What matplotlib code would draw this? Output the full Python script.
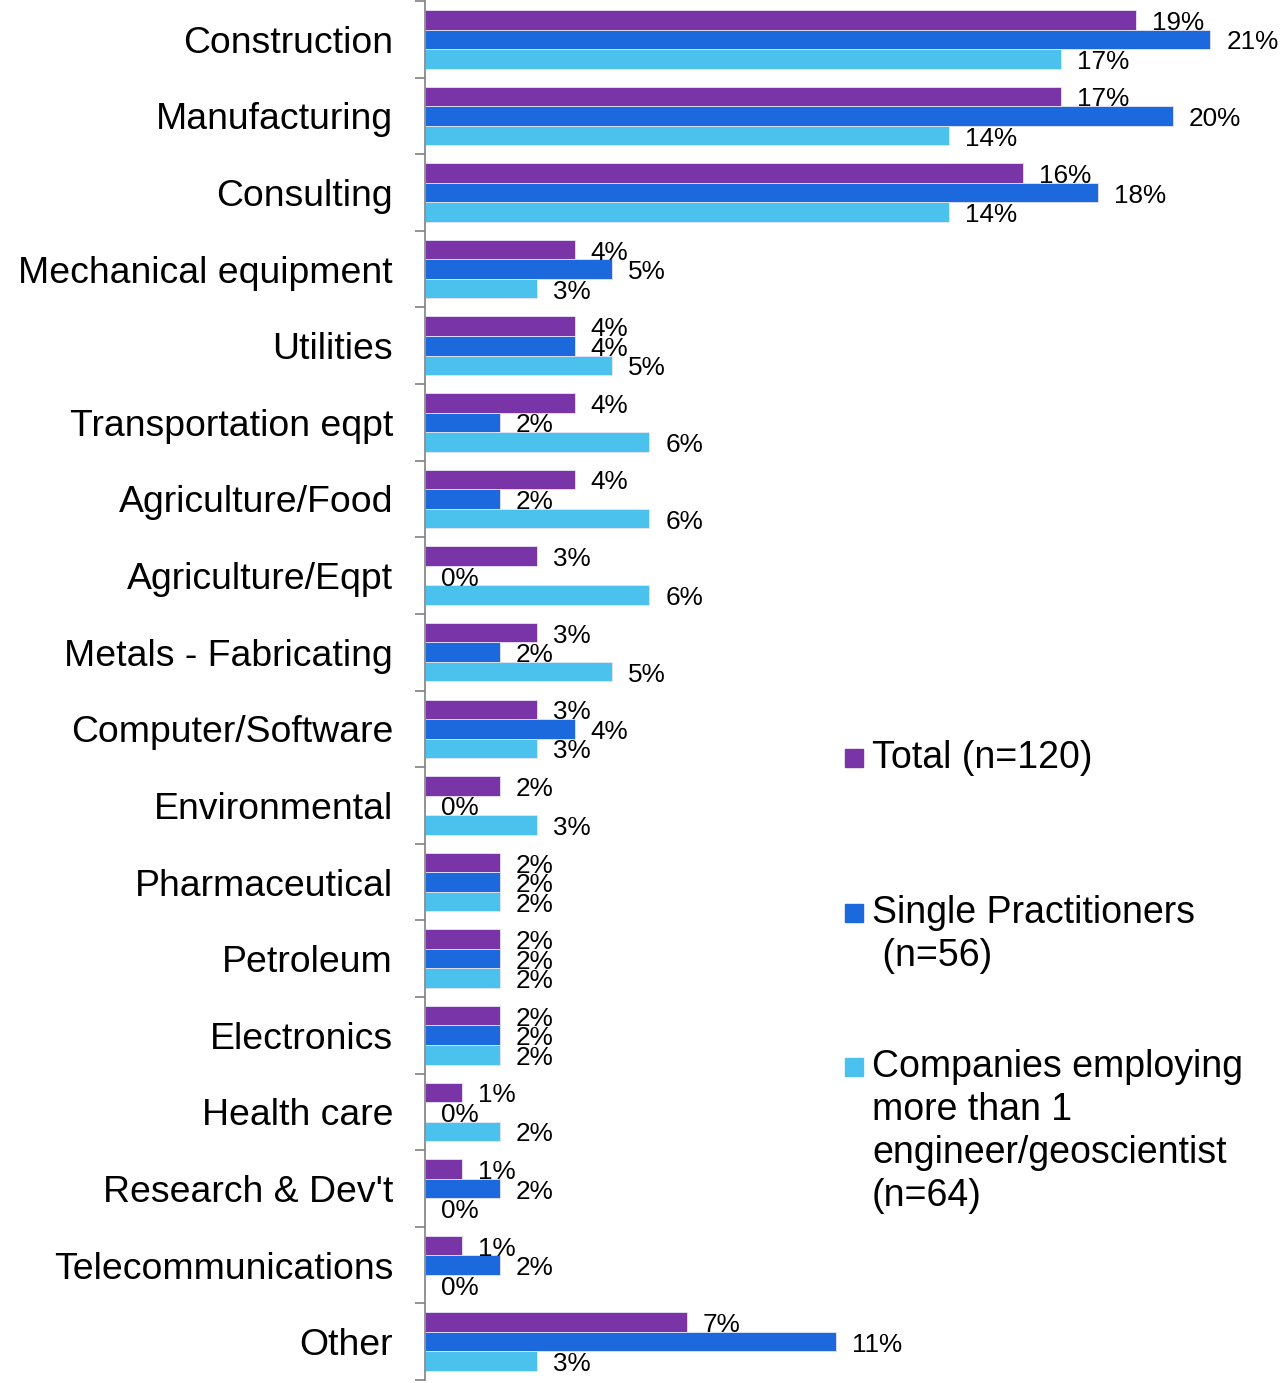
import matplotlib.pyplot as plt
import matplotlib.patches as mpatches
import numpy as np

plt.rcParams["font.family"] = ["Liberation Sans", "DejaVu Sans"]

categories = ["Construction", "Manufacturing", "Consulting", "Mechanical equipment",
              "Utilities", "Transportation eqpt", "Agriculture/Food", "Agriculture/Eqpt",
              "Metals - Fabricating", "Computer/Software", "Environmental",
              "Pharmaceutical", "Petroleum", "Electronics", "Health care",
              "Research & Dev't", "Telecommunications", "Other"]
total = [19, 17, 16, 4, 4, 4, 4, 3, 3, 3, 2, 2, 2, 2, 1, 1, 1, 7]
single = [21, 20, 18, 5, 4, 2, 2, 0, 2, 4, 0, 2, 2, 2, 0, 2, 2, 11]
companies = [17, 14, 14, 3, 5, 6, 6, 6, 5, 3, 3, 2, 2, 2, 2, 0, 0, 3]

series = [
    (total, "#7934A8", ["Total (n=120)"]),
    (single, "#1C69DE", ["Single Practitioners", " (n=56)"]),
    (companies, "#4BC2EE", ["Companies employing", "more than 1",
                            "engineer/geoscientist", "(n=64)"]),
]

W, H = 1288, 1383
fig = plt.figure(figsize=(W / 100, H / 100), dpi=100)
ax = fig.add_axes([425 / W, 1 - 1380 / H, 1 - 425 / W, (1380 - 1) / H])

y = np.arange(len(categories))
h = 0.255
for k, (vals, color, _) in enumerate(series):
    pos = y + (k - 1) * h
    ax.barh(pos, vals, height=h, color=color, edgecolor="#e8e4f4", linewidth=0.6)
    for yy, v in zip(pos, vals):
        ax.annotate(f"{v}%", (v, yy), xytext=(11.5, -2.2), textcoords="offset points",
                    ha="left", va="center", fontsize=18.8, color="black")

ax.set_xlim(0, (W - 425) / 37.4)
ax.set_ylim(len(categories) - 0.5, -0.5)

ax.set_yticks(y)
ax.set_yticklabels(categories, fontsize=26.9)
ax.tick_params(axis="y", which="major", length=0, pad=23)
ax.set_yticks(np.arange(len(categories) + 1) - 0.5, minor=True)
ax.tick_params(axis="y", which="minor", length=7.5, width=1.2, color="#808080")
ax.set_xticks([])

for side in ["top", "right", "bottom"]:
    ax.spines[side].set_visible(False)
ax.spines["left"].set_color("#808080")
ax.spines["left"].set_linewidth(1.2)

# legend drawn by hand so the swatch sits on the first text line
first_baselines = [768, 923, 1077]
step = 43
for (vals, color, lines), base in zip(series, first_baselines):
    fig.patches.append(mpatches.Rectangle((845 / W, 1 - (base - 1) / H), 18 / W, 18 / H,
                                          transform=fig.transFigure, color=color))
    for j, line in enumerate(lines):
        fig.text(872 / W, 1 - (base + j * step) / H, line, fontsize=27,
                 ha="left", va="baseline", color="black")

fig.savefig("out.png", dpi=100)
